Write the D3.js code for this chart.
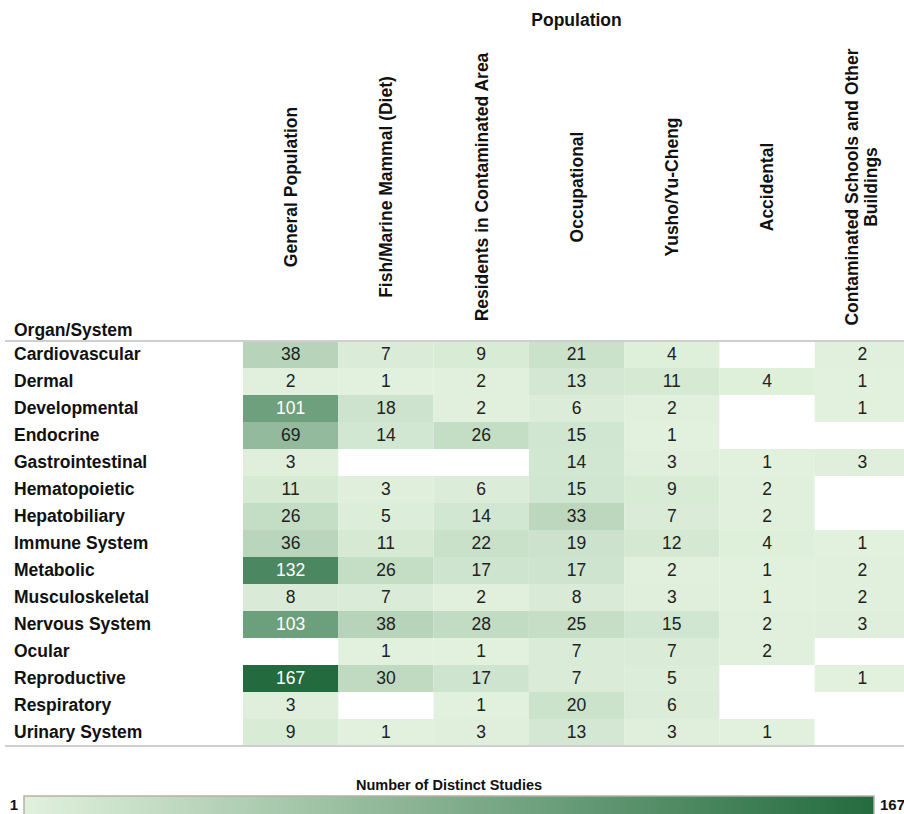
<!DOCTYPE html>
<html>
<head>
<meta charset="utf-8">
<script src="https://cdn.jsdelivr.net/npm/d3@7"></script>
<style>
  body { margin: 0; background: #fff; }
  svg text { font-family: "Liberation Sans", Arial, Helvetica, sans-serif; }
</style>
</head>
<body>
<div id="chart"></div>
<script>
// populations (columns)
var populations = [
  "General Population",
  "Fish/Marine Mammal (Diet)",
  "Residents in Contaminated Area",
  "Occupational",
  "Yusho/Yu-Cheng",
  "Accidental",
  "Contaminated Schools and Other Buildings"
];

// organ systems (rows)
var organs = [
  "Cardiovascular", "Dermal", "Developmental", "Endocrine", "Gastrointestinal",
  "Hematopoietic", "Hepatobiliary", "Immune System", "Metabolic", "Musculoskeletal",
  "Nervous System", "Ocular", "Reproductive", "Respiratory", "Urinary System"
];

// number of distinct studies, one array per population column (null = no studies)
var generalPop   = [38, 2, 101, 69, 3, 11, 26, 36, 132, 8, 103, null, 167, 3, 9];
var fishDiet     = [7, 1, 18, 14, null, 3, 5, 11, 26, 7, 38, 1, 30, null, 1];
var residents    = [9, 2, 2, 26, null, 6, 14, 22, 17, 2, 28, 1, 17, 1, 3];
var occupational = [21, 13, 6, 15, 14, 15, 33, 19, 17, 8, 25, 7, 7, 20, 13];
var yusho        = [4, 11, 2, 1, 3, 9, 7, 12, 2, 3, 15, 7, 5, 6, 3];
var accidental   = [null, 4, null, null, 1, 2, 2, 4, 1, 1, 2, 2, null, null, 1];
var schools      = [2, 1, 1, null, 3, null, null, 1, 2, 2, 3, null, 1, null, null];

var columnValues = [generalPop, fishDiet, residents, occupational, yusho, accidental, schools];

var legendMin = 1;
var legendMax = 167;

var svgWidth = 904;
var svgHeight = 814;

var svg = d3.select("#chart")
  .append("svg")
  .attr("width", svgWidth)
  .attr("height", svgHeight);

var gridLeft = 243, gridRight = 910;
var gridTop = 341, gridBottom = 746;

var x = d3.scaleBand()
  .domain(populations)
  .range([gridLeft, gridRight]);

var y = d3.scaleBand()
  .domain(organs)
  .range([gridTop, gridBottom]);

var color = d3.scaleLinear()
  .domain([legendMin, legendMax])
  .range(["#e1f1dd", "#236b3e"]);

// flatten into cells
var cells = [];
columnValues.forEach(function(col, i) {
  col.forEach(function(v, j) {
    if (v !== null) cells.push({pop: populations[i], organ: organs[j], value: v});
  });
});

// title
svg.append("text")
  .attr("x", (gridLeft + gridRight) / 2)
  .attr("y", 26)
  .attr("text-anchor", "middle")
  .attr("font-size", "17.5px")
  .attr("font-weight", "bold")
  .attr("fill", "#111")
  .text("Population");

// column headers (rotated)
var headerG = svg.append("g");
populations.forEach(function(p) {
  var cx = x(p) + x.bandwidth() / 2;
  var t = headerG.append("text")
    .attr("transform", "translate(" + cx + ",187) rotate(-90)")
    .attr("text-anchor", "middle")
    .attr("font-size", "17.5px")
    .attr("font-weight", "bold")
    .attr("fill", "#111");
  if (p === "Contaminated Schools and Other Buildings") {
    t.append("tspan").attr("x", 0).attr("dy", "-0.26em").text("Contaminated Schools and Other");
    t.append("tspan").attr("x", 0).attr("dy", "1.12em").text("Buildings");
  } else {
    t.attr("dy", "0.36em").text(p);
  }
});

// row header title
svg.append("text")
  .attr("x", 14)
  .attr("y", 336)
  .attr("font-size", "17.5px")
  .attr("font-weight", "bold")
  .attr("fill", "#111")
  .text("Organ/System");

// cells
svg.append("g").selectAll("rect")
  .data(cells)
  .enter()
  .append("rect")
  .attr("x", d => x(d.pop))
  .attr("y", d => y(d.organ))
  .attr("width", x.bandwidth())
  .attr("height", y.bandwidth())
  .attr("fill", d => color(d.value));

svg.append("g").selectAll("text")
  .data(cells)
  .enter()
  .append("text")
  .attr("x", d => x(d.pop) + x.bandwidth() / 2)
  .attr("y", d => y(d.organ) + y.bandwidth() / 2)
  .attr("dy", "0.34em")
  .attr("text-anchor", "middle")
  .attr("font-size", "17.5px")
  .attr("fill", d => d.value > 90 ? "#ffffff" : "#222")
  .text(d => d.value);

// row labels
svg.append("g").selectAll("text")
  .data(organs)
  .enter()
  .append("text")
  .attr("x", 14)
  .attr("y", d => y(d) + y.bandwidth() / 2)
  .attr("dy", "0.34em")
  .attr("font-size", "17.5px")
  .attr("font-weight", "bold")
  .attr("fill", "#111")
  .text(d => d);

// rules
[gridTop, gridBottom].forEach(function(yy) {
  svg.append("line")
    .attr("x1", 5).attr("x2", svgWidth)
    .attr("y1", yy).attr("y2", yy)
    .attr("stroke", "#cfcfcf")
    .attr("stroke-width", 2);
});

// legend
var defs = svg.append("defs");
var grad = defs.append("linearGradient").attr("id", "legendGrad");
d3.range(0, 1.0001, 0.1).forEach(function(t) {
  grad.append("stop")
    .attr("offset", (t * 100) + "%")
    .attr("stop-color", color(legendMin + t * (legendMax - legendMin)));
});

var legendX = d3.scaleLinear().domain([legendMin, legendMax]).range([24, 874]);

svg.append("rect")
  .attr("x", legendX(legendMin))
  .attr("y", 796)
  .attr("width", legendX(legendMax) - legendX(legendMin))
  .attr("height", 24)
  .attr("fill", "url(#legendGrad)")
  .attr("stroke", "#b8b0a4")
  .attr("stroke-width", 1.5);

svg.append("text")
  .attr("x", (legendX(legendMin) + legendX(legendMax)) / 2)
  .attr("y", 790)
  .attr("text-anchor", "middle")
  .attr("font-size", "14.5px")
  .attr("font-weight", "bold")
  .attr("fill", "#111")
  .text("Number of Distinct Studies");

svg.append("text")
  .attr("x", legendX(legendMin) - 6)
  .attr("y", 810)
  .attr("text-anchor", "end")
  .attr("font-size", "15px")
  .attr("font-weight", "bold")
  .attr("fill", "#111")
  .text(legendMin);

svg.append("text")
  .attr("x", legendX(legendMax) + 6)
  .attr("y", 810)
  .attr("font-size", "15px")
  .attr("font-weight", "bold")
  .attr("fill", "#111")
  .text(legendMax);
</script>
</body>
</html>
